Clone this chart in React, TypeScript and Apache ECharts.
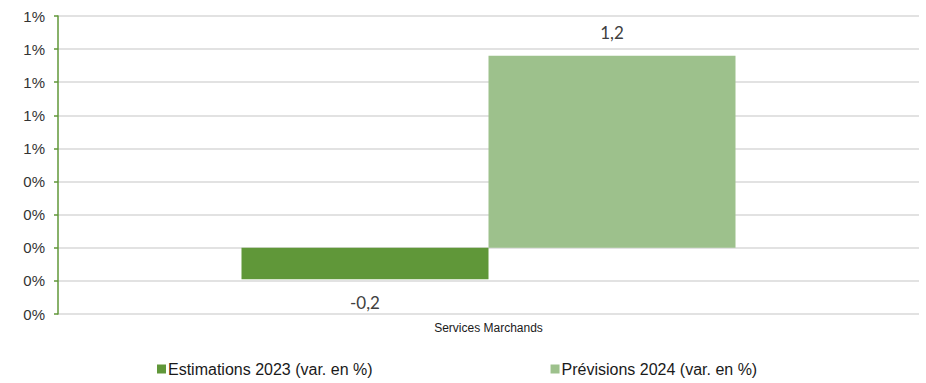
import React, { useEffect, useRef } from "react";
import * as echarts from "echarts";

const categories = ["Services Marchands"];
const seriesNames = ["Estimations 2023 (var. en %)", "Prévisions 2024 (var. en %)"];
const estimations2023 = [-0.19];
const previsions2024 = [1.16];
const colors = ["#609739", "#9dc18c"];

const fmt = (v: number) => v.toFixed(1).replace(".", ",");

export default function App() {
  const ref = useRef<HTMLDivElement>(null);
  useEffect(() => {
    if (!ref.current) return;
    const chart = echarts.init(ref.current, undefined, { renderer: "svg" });
    chart.setOption({
      animation: false,
      grid: { left: 58, right: 7, top: 16, bottom: 69, containLabel: false },
      legend: {
        bottom: 1,
        left: 152,
        itemGap: 178,
        itemWidth: 9,
        itemHeight: 9,
        icon: "rect",
        textStyle: { fontFamily: "Liberation Sans", fontSize: 16, color: "#1a1a1a", padding: [0, 0, 0, -3] },
        data: seriesNames,
      },
      xAxis: {
        type: "category",
        data: categories,
        axisLine: { show: false },
        axisTick: { show: false },
        axisLabel: { fontFamily: "Liberation Sans", fontSize: 12, color: "#1a1a1a", margin: 8 },
      },
      yAxis: {
        type: "value",
        min: -0.4,
        max: 1.4,
        interval: 0.2,
        axisLine: { show: true, lineStyle: { color: "#609739", width: 1.5 } },
        axisTick: { show: true, inside: false, length: 4, lineStyle: { color: "#609739", width: 1.5 } },
        splitLine: { show: true, lineStyle: { color: "#d9d9d9", width: 1.5 } },
        axisLabel: {
          fontFamily: "Liberation Sans",
          fontSize: 15,
          color: "#333333",
          margin: 13,
          formatter: (v: number) => Math.abs(Math.round(v)) + "%",
        },
      },
      series: [
        {
          name: seriesNames[0],
          type: "bar",
          data: estimations2023,
          barWidth: 247,
          barGap: "0%",
          itemStyle: { color: colors[0] },
          label: {
            show: true,
            position: "bottom",
            distance: 15,
            fontFamily: "Lato",
            fontSize: 17,
            color: "#404040",
            formatter: (p: any) => fmt(p.value),
          },
        },
        {
          name: seriesNames[1],
          type: "bar",
          data: previsions2024,
          barWidth: 247,
          barGap: "0%",
          itemStyle: { color: colors[1] },
          label: {
            show: true,
            position: "top",
            distance: 15,
            fontFamily: "Lato",
            fontSize: 17,
            color: "#404040",
            formatter: (p: any) => fmt(p.value),
          },
        },
      ],
    });
    return () => chart.dispose();
  }, []);
  return <div ref={ref} style={{ width: 926, height: 383, position: "absolute", left: 0, top: 0 }} />;
}
